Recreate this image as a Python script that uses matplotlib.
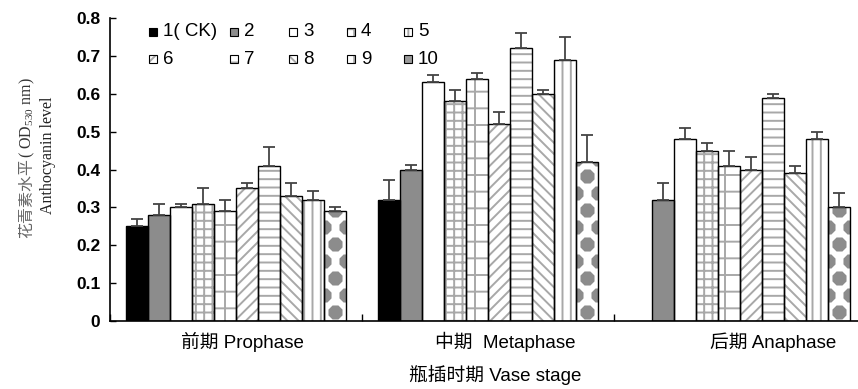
import numpy as np
import matplotlib
matplotlib.use("Agg")
import matplotlib.pyplot as plt
from matplotlib import font_manager
from matplotlib.patches import Rectangle

# values
stages = ["前期 Prophase", "中期  Metaphase", "后期 Anaphase"]
treatments = ["1( CK)", "2", "3", "4", "5", "6", "7", "8", "9", "10"]
prophase = [0.25, 0.28, 0.30, 0.31, 0.29, 0.35, 0.41, 0.33, 0.32, 0.29]
prophase_err = [0.02, 0.03, 0.01, 0.04, 0.03, 0.014, 0.05, 0.034, 0.023, 0.012]
metaphase = [0.32, 0.40, 0.63, 0.58, 0.64, 0.52, 0.72, 0.60, 0.69, 0.42]
metaphase_err = [0.053, 0.011, 0.02, 0.031, 0.016, 0.031, 0.04, 0.011, 0.06, 0.07]
anaphase = [0.0, 0.32, 0.48, 0.45, 0.41, 0.40, 0.59, 0.39, 0.48, 0.30]
anaphase_err = [0.0, 0.044, 0.03, 0.02, 0.04, 0.034, 0.01, 0.02, 0.02, 0.038]

means = np.array([prophase, metaphase, anaphase])
errs = np.array([prophase_err, metaphase_err, anaphase_err])

fills = ["black", "#8c8c8c", "white", "white", "white", "white", "white", "white", "white", "white"]
hatches = [None, None, None, "++", "+", "///", "--", "\\\\\\", "||", None]
hatch_col = "#a8a8a8"

names = {f.name for f in font_manager.fontManager.ttflist}
narrow = "Liberation Sans Narrow" if "Liberation Sans Narrow" in names else "Liberation Sans"

plt.rcParams["mathtext.fontset"] = "custom"
plt.rcParams["mathtext.rm"] = "Liberation Serif"
plt.rcParams["hatch.linewidth"] = 1.4

W, H = 858, 389
fig = plt.figure(figsize=(W / 100, H / 100), dpi=100)
ax = fig.add_axes([110 / W, 68 / H, 756 / W, 303 / H])
ax.set_xlim(-0.5, 2.5)
ax.set_ylim(0, 0.8)

w = 0.0873
x = np.arange(len(stages))
for i in range(len(treatments)):
    xs = x + (i - 4.5) * w
    h = means[:, i]
    ax.bar(xs, h, w, color=fills[i], hatch=hatches[i],
           edgecolor=hatch_col if hatches[i] else fills[i], linewidth=0)
    outline = ax.bar(xs, h, w, fill=False, edgecolor="black", linewidth=1, zorder=2.5)
    if i == 9:
        # blob pattern for treatment 10, clipped to each bar
        pitch = 17 / 377.5
        for rect, xc, hh in zip(outline.patches, xs, h):
            ys = np.arange(pitch / 2, hh + pitch, pitch)
            px, py = [], []
            for r, yy in enumerate(ys):
                cols = [xc] if r % 2 == 0 else [xc - w / 2, xc + w / 2]
                for cx in cols:
                    px.append(cx)
                    py.append(yy)
            sc = ax.scatter(px, py, s=120, marker="8", color="#8c8c8c", linewidths=0, zorder=2)
            sc.set_clip_path(rect)
    m = h > 0
    ax.errorbar(xs[m], h[m], yerr=[np.zeros(m.sum()), errs[m, i]], fmt="none",
                ecolor="#444444", elinewidth=1.3, capsize=4, capthick=1.3, zorder=3)

yt = np.round(np.arange(0, 0.81, 0.1), 1)
ax.set_yticks(yt)
ax.set_yticklabels([f"{v:g}" for v in yt], fontweight="bold", family="Liberation Sans", fontsize=12.5)
ax.tick_params(axis="y", direction="in", length=4, pad=7, width=1)
ax.set_xticks([])
ax.set_xticks([-0.5, 0.5, 1.5], minor=True)
ax.tick_params(axis="x", which="minor", direction="in", length=5, width=1)
for s in ["top", "right"]:
    ax.spines[s].set_visible(False)
for s in ["left", "bottom"]:
    ax.spines[s].set_linewidth(1.2)

# legend drawn by hand, Excel-like spacing
leg_x = [149, 230, 289, 347, 404]
leg_y = [32, 59]
leg_fill = fills[:9] + ["#9a9a9a"]
for k, lab in enumerate(treatments):
    px = leg_x[k % 5]
    py = leg_y[k // 5]
    xy = ((px - 110) / 756, (321 - py - 4) / 303)
    ax.add_patch(Rectangle(xy, 8 / 756, 8 / 303, transform=ax.transAxes, facecolor=leg_fill[k],
                           hatch=hatches[k], edgecolor=hatch_col if hatches[k] else leg_fill[k],
                           linewidth=0, clip_on=False))
    ax.add_patch(Rectangle(xy, 8 / 756, 8 / 303, transform=ax.transAxes, fill=False,
                           edgecolor="black", linewidth=0.8, clip_on=False))
    ax.text((px + 14 - 110) / 756, (321 - py) / 303, lab, transform=ax.transAxes,
            va="center", ha="left", fontsize=13.5, family=["Liberation Sans", "Noto Sans CJK SC"])

# category labels (offset as in the reference)
lab_fam = [narrow, "Noto Sans CJK SC"]
stage_px = [242, 505, 773]
for px, lab in zip(stage_px, stages):
    fig.text(px / W, 1 - 342 / H, lab, ha="center", va="center", fontsize=13.5, family=lab_fam)
fig.text(495 / W, 1 - 375 / H, "瓶插时期 Vase stage", ha="center", va="center", fontsize=13.5, family=lab_fam)

# y label: Chinese part and unit part drawn separately
split = 1 - 158 / H
fig.text(27 / W, split, "花青素水平", rotation=90, ha="center", va="top",
         fontsize=11.5, color="#666666", family="Noto Sans CJK SC", fontweight="light")
fig.text(27 / W, split, "( OD$_{530}$ nm)", rotation=90, ha="center", va="bottom",
         fontsize=11.5, color="#333333", family="Liberation Serif")
fig.text(48 / W, 1 - 155 / H, "Anthocyanin level", rotation=90, ha="center", va="center",
         fontsize=11.5, color="#222222", family="Liberation Serif")

fig.savefig("out.png", dpi=100)
